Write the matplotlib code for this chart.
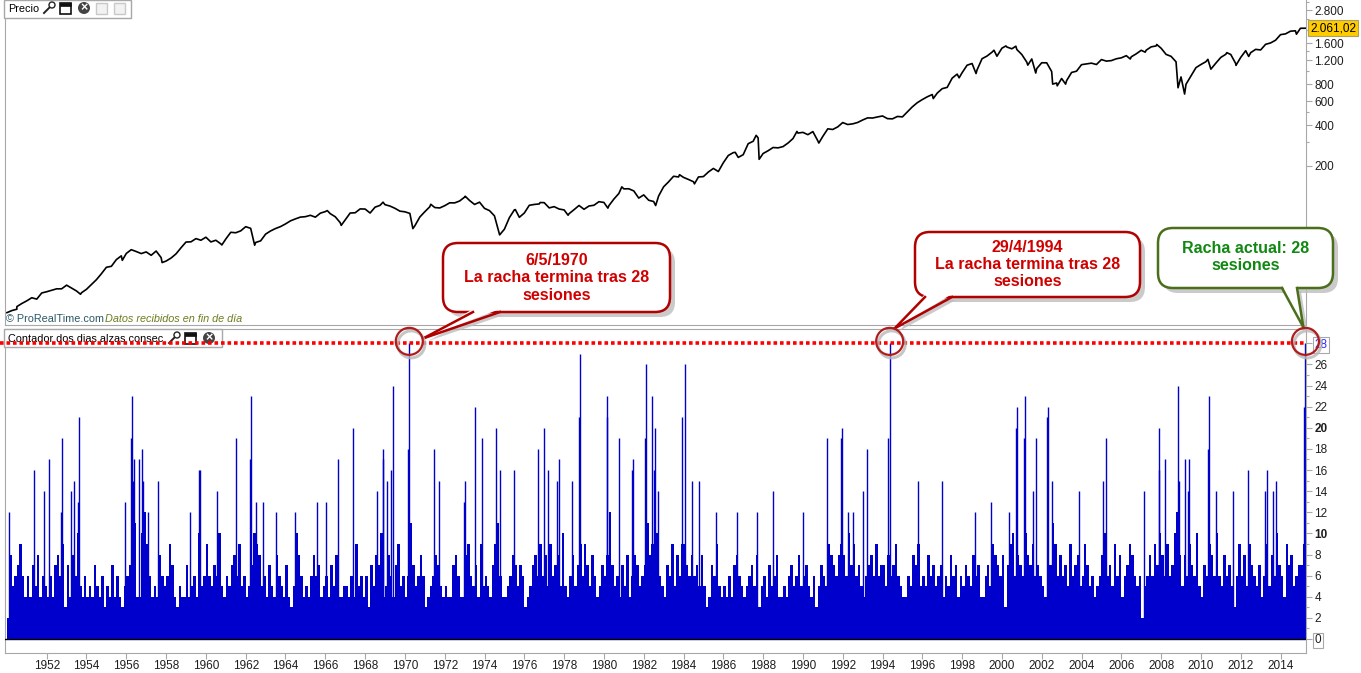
import numpy as np
import matplotlib
matplotlib.use("Agg")
import matplotlib.pyplot as plt
from matplotlib.patches import FancyBboxPatch, Polygon, Rectangle, Circle
from matplotlib.lines import Line2D
from matplotlib.transforms import Affine2D, blended_transform_factory

plt.rcParams['font.family'] = ['Liberation Sans', 'DejaVu Sans']

W, H = 1361, 673

# ---------------------------------------------------------------- data
# S&P 500, quarter-end closes (one row per year)
price_q_1950s = [17.3, 17.7, 19.5, 20.4,  21.5, 21.0, 23.3, 23.8,
                 24.4, 25.0, 25.0, 26.6,  25.3, 24.1, 23.4, 24.8,
                 26.9, 29.2, 32.3, 36.0,  36.6, 41.0, 43.7, 45.5,
                 48.5, 47.0, 45.4, 46.7,  44.1, 47.4, 42.4, 40.0,
                 42.1, 45.2, 50.1, 55.2,  55.4, 58.5, 56.9, 59.9]
price_q_1960s = [55.3, 56.9, 53.5, 58.1,  65.1, 64.6, 66.7, 71.6,
                 69.6, 54.8, 56.3, 63.1,  66.6, 69.4, 71.7, 75.0,
                 79.0, 81.7, 84.2, 84.8,  86.8, 84.1, 90.0, 92.4,
                 89.2, 84.7, 76.6, 80.3,  90.2, 90.6, 96.7, 96.5,
                 90.2, 99.6, 102.7, 103.9, 101.5, 97.7, 93.1, 92.1]
price_q_1970s = [89.6, 72.7, 84.3, 92.2,  100.3, 99.0, 98.3, 102.1,
                 107.2, 107.1, 110.6, 118.1, 111.5, 104.3, 108.4, 97.6,
                 94.0, 86.0, 63.5, 68.6,  83.4, 95.2, 83.9, 90.2,
                 102.8, 104.3, 105.2, 107.5, 98.4, 100.5, 96.5, 95.1,
                 89.2, 95.5, 102.5, 96.1,  101.6, 102.9, 109.3, 107.9]
price_q_1980s = [102.1, 114.2, 125.5, 135.8, 136.0, 131.2, 116.2, 122.6,
                 112.0, 109.6, 120.4, 140.6, 153.0, 168.1, 166.1, 164.9,
                 159.2, 153.2, 166.1, 167.2, 180.7, 191.9, 182.1, 211.3,
                 238.9, 250.8, 231.3, 242.2, 291.7, 304.0, 321.8, 247.1,
                 258.9, 273.5, 271.9, 277.7, 294.9, 318.0, 349.2, 353.4]
price_q_1990s = [339.9, 358.0, 306.1, 330.2, 375.2, 371.2, 387.9, 417.1,
                 403.7, 408.1, 417.8, 435.7, 451.7, 450.5, 458.9, 466.5,
                 445.8, 444.3, 462.7, 459.3, 500.7, 544.8, 584.4, 615.9,
                 645.5, 670.6, 687.3, 740.7, 757.1, 885.1, 947.3, 970.4,
                 1101.8, 1133.8, 1017.0, 1229.2, 1286.4, 1372.7, 1282.7, 1469.3]
price_q_2000s = [1498.6, 1454.6, 1436.5, 1320.3, 1160.3, 1224.4, 1040.9, 1148.1,
                 1147.4, 989.8, 815.3, 879.8,  848.2, 974.5, 996.0, 1111.9,
                 1126.2, 1140.8, 1114.6, 1211.9, 1180.6, 1191.3, 1228.8, 1248.3,
                 1294.8, 1270.2, 1335.9, 1418.3, 1420.9, 1503.4, 1526.8, 1468.4,
                 1322.7, 1280.0, 1166.4, 903.3, 797.9, 919.3, 1057.1, 1115.1]
price_q_2010s = [1169.4, 1030.7, 1141.2, 1257.6, 1325.8, 1320.6, 1131.4, 1257.6,
                 1408.5, 1362.2, 1440.7, 1426.2, 1569.2, 1606.3, 1681.6, 1848.4,
                 1872.3, 1960.2, 1972.3, 2058.9, 2061.0]
price_start = 16.7
# intra-quarter highs and lows visible on the chart
price_ext_dates = [1950.5, 1953.7, 1955.8, 1957.8, 1960.8, 1962.45, 1966.1,
                   1966.8, 1968.9, 1970.4, 1971.3, 1973.03, 1974.76, 1975.55,
                   1976.8, 1978.2, 1980.2, 1980.9, 1982.6, 1983.8, 1984.55,
                   1986.6, 1987.65, 1987.8, 1989.7, 1990.8, 1996.55, 1997.85,
                   1998.7, 1999.6, 2000.2, 2000.7, 2001.3, 2001.7, 2002.55,
                   2002.78, 2003.2, 2006.45, 2007.2, 2007.78, 2008.85, 2009.18,
                   2010.35, 2011.3, 2011.76, 2012.4, 2014.8]
price_ext_vals = [18.5, 22.8, 40.5, 39.0, 52.5, 52.3, 94.0,
                  73.2, 108.4, 69.3, 104.6, 119.9, 62.3, 95.6,
                  107.8, 86.9, 98.0, 140.5, 102.4, 172.6, 147.8,
                  252.0, 336.0, 224.0, 359.0, 295.0, 626.0, 890.0,
                  957.0, 1420.0, 1527.0, 1520.0, 1103.0, 965.0, 800.0,
                  776.8, 800.0, 1224.0, 1374.0, 1565.0, 752.0, 676.5,
                  1217.0, 1363.0, 1099.0, 1278.0, 1862.0]

# consecutive up-day counter, one reading per 1/8 year
streak_1950s = [2, 8, 5, 6, 7, 9, 6, 4,   6, 4, 7, 5, 8, 4, 6, 5,
                4, 6, 4, 7, 8, 6, 9, 3,   7, 4, 8, 6, 10, 5, 4, 6,
                4, 5, 4, 7, 5, 4, 6, 3,   5, 4, 7, 4, 6, 4, 3, 5,
                6, 7, 9, 11, 4, 4, 10, 12, 9, 6, 4, 5, 4, 8, 6, 5,
                6, 9, 7, 4, 3, 5, 4, 4,   7, 4, 5, 6, 4, 10, 5, 6]
streak_1960s = [9, 6, 5, 7, 6, 10, 5, 4,  6, 5, 7, 8, 6, 9, 5, 6,
                4, 5, 7, 10, 9, 8, 5, 6,  4, 7, 5, 4, 8, 6, 5, 4,
                7, 4, 3, 5, 10, 8, 6, 4,  5, 4, 6, 8, 6, 7, 4, 5,
                6, 4, 7, 5, 8, 4, 4, 5,   5, 4, 6, 4, 9, 5, 6, 4,
                6, 3, 7, 5, 8, 7, 10, 4,  5, 8, 6, 4, 7, 9, 5, 6]
streak_1970s = [4, 6, 11, 7, 5, 6, 8, 6,  3, 4, 5, 6, 8, 7, 5, 4,
                5, 4, 4, 7, 8, 6, 4, 4,   8, 9, 6, 5, 7, 4, 9, 5,
                6, 5, 4, 7, 9, 11, 6, 4,  4, 5, 6, 8, 7, 5, 7, 6,
                3, 4, 5, 7, 8, 6, 9, 6,   8, 5, 9, 6, 7, 8, 5, 10,
                5, 4, 6, 8, 5, 7, 9, 6,   9, 7, 5, 8, 6, 4, 5, 7]
streak_1980s = [6, 8, 12, 7, 5, 6, 4, 7,  5, 8, 4, 6, 8, 7, 5, 6,
                7, 11, 8, 9, 7, 10, 6, 5, 4, 7, 6, 9, 5, 8, 6, 9,
                9, 7, 6, 8, 6, 7, 5, 8,   5, 3, 4, 7, 6, 9, 5, 4,
                5, 4, 6, 4, 7, 8, 6, 5,   4, 5, 6, 7, 5, 8, 3, 5,
                6, 4, 7, 5, 6, 8, 4, 4,   5, 4, 6, 7, 5, 6, 8, 5]
streak_1990s = [6, 7, 5, 4, 6, 3, 5, 7,   6, 5, 9, 8, 7, 6, 8, 9,
                8, 6, 10, 7, 9, 6, 7, 5,  4, 6, 7, 8, 6, 9, 6, 7,
                7, 5, 8, 6, 7, 9, 6, 5,   4, 4, 6, 5, 8, 7, 9, 5,
                6, 5, 8, 6, 7, 5, 6, 7,   4, 6, 5, 8, 6, 7, 4, 6,
                5, 7, 6, 5, 8, 6, 7, 4,   4, 6, 7, 5, 9, 8, 7, 6]
streak_2000s = [8, 3, 7, 9, 10, 6, 8, 7,  6, 10, 8, 7, 9, 6, 7, 6,
                5, 4, 8, 7, 11, 9, 6, 8,  6, 7, 5, 9, 6, 7, 8, 5,
                6, 9, 7, 5, 6, 4, 5, 6,   8, 10, 6, 7, 5, 9, 6, 8,
                4, 6, 7, 9, 8, 6, 5, 6,   2, 5, 6, 8, 6, 9, 7, 10,
                8, 6, 9, 6, 7, 10, 12, 8, 5, 8, 6, 9, 7, 6, 10, 5]
streak_2010s = [4, 7, 6, 9, 8, 6, 10, 6,  5, 8, 6, 7, 5, 3, 6, 9,
                6, 8, 5, 9, 7, 6, 5, 7,   4, 6, 9, 5, 8, 6, 10, 7,
                6, 4, 9, 7, 8, 5, 6, 7,   7, 9]

# the tall streaks, read one by one (decimal year, sessions)
spike_dates = [1950.12, 1951.38, 1951.88, 1952.10, 1952.74, 1952.79, 1953.24,
               1953.39, 1953.59, 1953.64, 1955.93, 1956.25, 1956.30, 1956.35,
               1956.40, 1956.65, 1956.77, 1956.86, 1957.11, 1957.61, 1959.20,
               1959.64, 1959.70, 1960.57, 1961.50, 1962.22, 1962.27, 1962.50,
               1962.89, 1963.54, 1964.48, 1965.57, 1966.03,
               1966.65, 1967.41, 1968.58, 1968.88, 1968.91, 1969.09, 1969.32,
               1969.39, 1970.17, 1970.22, 1971.48, 1971.73, 1972.97, 1973.04,
               1973.54, 1973.86, 1974.59, 1974.79, 1975.50, 1976.70, 1977.01,
               1977.21, 1977.63, 1977.76, 1978.41, 1978.76, 1978.80, 1980.14,
               1980.17, 1980.77, 1981.43, 1981.48, 1982.07, 1982.12,
               1982.40, 1982.53, 1982.58, 1982.73, 1983.94, 1984.09, 1984.41,
               1984.79, 1985.63, 1986.70, 1987.68, 1988.51, 1990.02, 1991.23,
               1991.92, 1991.98, 1992.28, 1992.53, 1993.04, 1993.24, 1994.29,
               1994.36, 1995.80, 1996.97,
               1998.65, 1999.44, 2000.37, 2000.72, 2000.77, 2001.13, 2001.18,
               2001.55, 2001.70, 2002.28, 2002.33, 2002.53, 2003.89, 2005.07,
               2005.25, 2007.16, 2007.88, 2007.91, 2008.21, 2008.83, 2008.92,
               2009.20, 2009.37, 2009.42, 2010.37, 2010.42, 2010.76, 2011.63,
               2012.38, 2013.22, 2013.31, 2013.64, 2013.77, 2015.20, 2015.25]
spike_vals = [12, 16, 14, 17, 12, 19, 14,
              15, 13, 21, 13, 19, 23, 15,
              17, 17, 18, 15, 12, 15, 12,
              16, 16, 14, 19, 17, 23, 13,
              13, 12, 12, 13, 13,
              17, 20, 14, 17, 18, 15, 16,
              24, 18, 28, 18, 15, 13, 15,
              22, 19, 20, 16, 16, 18, 20,
              16, 15, 17, 15, 21, 27, 21,
              23, 19, 16, 17, 19, 26,
              23, 16, 20, 14, 21, 26, 15,
              15, 12, 12, 12, 14, 12, 19,
              19, 20, 12, 12, 14, 18, 19,
              28, 15, 15,
              12, 13, 12, 20, 22, 19, 23,
              14, 19, 21, 22, 15, 14, 15,
              19, 14, 16, 20, 17, 24, 15,
              17, 14, 17, 18, 23, 14, 14,
              16, 14, 16, 14, 15, 22, 28]

# annotated streaks
marks = [(1970.22, 28), (1994.36, 28), (2015.25, 28)]
notes = ["6/5/1970\nLa racha termina tras 28\nsesiones",
         "29/4/1994\nLa racha termina tras 28\nsesiones",
         "Racha actual: 28\nsesiones"]

year_ticks = list(range(1952, 2015, 2))
price_ticks = [200, 400, 600, 800, 1200, 1600, 2800]
price_minor = [300, 500, 1000, 1400, 2000, 2400, 3200]
streak_ticks = list(range(0, 29, 2))

# ---------------------------------------------------------------- figure
fig = plt.figure(figsize=(W / 100, H / 100), dpi=100)
fig.patch.set_facecolor('white')
px = Affine2D().scale(1, -1).translate(0, H)   # image pixels, top-left origin

XMIN, XMAX = 1949.905, 2015.28
GRAY = '#a8a8a8'
TXT = '#1e1e1e'

ax1 = fig.add_axes([5 / W, 1 - 325 / H, 1301 / W, 325 / H])
ax2 = fig.add_axes([5 / W, 1 - 653 / H, 1301 / W, 324 / H])

# price panel
q_dates = np.concatenate([y + np.arange(1, 5) / 4 for y in range(1950, 2015)] +
                         [[2015.25]])
q_vals = (price_q_1950s + price_q_1960s + price_q_1970s + price_q_1980s +
          price_q_1990s + price_q_2000s + price_q_2010s)
p_dates = np.concatenate([[1950.0], q_dates, price_ext_dates])
p_vals = np.concatenate([[price_start], q_vals, price_ext_vals])
order = np.argsort(p_dates)
ax1.plot(p_dates[order], p_vals[order], color='black', lw=1.2)
ax1.set_yscale('log')
ax1.set_xlim(XMIN, XMAX)
ax1.set_ylim(13.55, 3323)
ax1.set_xticks([])
ax1.yaxis.tick_right()
ax1.set_yticks(price_ticks,
               labels=['{:,}'.format(v).replace(',', '.') for v in price_ticks])
ax1.set_yticks(price_minor, minor=True)
ax1.yaxis.set_minor_formatter(plt.NullFormatter())
ax1.tick_params(axis='y', which='major', length=4, width=0.8, color=GRAY,
                labelsize=8.5, labelcolor=TXT, pad=2)
ax1.tick_params(axis='y', which='minor', length=2.5, width=0.8, color=GRAY)
for s in ['left', 'right', 'bottom']:
    ax1.spines[s].set_color(GRAY)
ax1.spines['top'].set_visible(False)
ax1.text(1 + 4 / 1301, 2061, '2.061,02', fontsize=8.5, color='black',
         ha='left', va='center',
         transform=blended_transform_factory(ax1.transAxes, ax1.transData),
         bbox=dict(boxstyle='square,pad=0.15', fc='#ffcc00', ec='#b0a060', lw=0.8))

# streak panel
base = streak_1950s + streak_1960s + streak_1970s + streak_1980s + \
       streak_1990s + streak_2000s + streak_2010s
bx = 1950 + np.arange(len(base)) / 8
ax2.bar(bx, base, width=1 / 8, align='edge', color='#0000cc', lw=0, zorder=2)
ax2.vlines(spike_dates, 0, spike_vals, color='#0000cc', lw=1.0, zorder=2)
ax2.axhline(0, color='black', lw=1.0, zorder=3)
ax2.axhline(28, xmin=-5 / 1301, xmax=1, color='#ff0000', lw=2.6,
            ls=(0, (1, 0.8)), zorder=4, clip_on=False)
ax2.set_xlim(XMIN, XMAX)
ax2.set_ylim(-1.33, 29.36)
ax2.yaxis.tick_right()
ax2.set_yticks(streak_ticks, labels=[str(v) for v in streak_ticks])
ax2.set_yticks(range(1, 29, 2), minor=True)
ax2.tick_params(axis='y', which='major', length=4, width=0.8, color=GRAY,
                labelsize=8.5, labelcolor=TXT, pad=2)
ax2.tick_params(axis='y', which='minor', length=2.5, width=0.8, color=GRAY)
for lab in ax2.get_yticklabels():
    if lab.get_text() in ('10', '20'):
        lab.set_fontweight('bold')
    if lab.get_text() == '28':
        lab.set_color('#2a2aff')
        lab.set_bbox(dict(boxstyle='square,pad=0.15', fc='white', ec=GRAY, lw=0.8))
    if lab.get_text() == '0':
        lab.set_bbox(dict(boxstyle='square,pad=0.15', fc='white', ec=GRAY, lw=0.8))
ax2.set_xticks(year_ticks, labels=[str(y) for y in year_ticks])
ax2.tick_params(axis='x', length=4, width=0.8, color=GRAY, labelsize=8.5,
                labelcolor=TXT, pad=1)
for s in ax2.spines.values():
    s.set_color(GRAY)


# ---------------------------------------------------------------- panel headers
def icons(ax, x, y0, items, z):
    tr = Affine2D().scale(1, -1).translate(0, H - y0)
    for kind in items:
        if kind == 'wrench':
            ax.add_line(Line2D([x + 1, x + 8], [14, 7], color='#222', lw=1.4,
                               transform=tr, clip_on=False, zorder=z))
            ax.add_patch(Circle((x + 9, 6), 3, transform=tr, fc='white', ec='#222',
                                lw=1.0, clip_on=False, zorder=z))
            x += 17
        elif kind == 'window':
            ax.add_patch(Rectangle((x, 3.5), 11, 11, transform=tr, fc='white',
                                   ec='#111', lw=1.2, clip_on=False, zorder=z))
            ax.add_patch(Rectangle((x, 3.5), 11, 3, transform=tr, fc='#111',
                                   ec='#111', lw=0.5, clip_on=False, zorder=z))
            x += 18
        elif kind == 'close':
            ax.add_patch(Circle((x + 6, 9), 6, transform=tr, fc='#444', ec='none',
                                clip_on=False, zorder=z))
            ax.text(x + 6, 9.5, '×', transform=tr, color='white', fontsize=9,
                    fontweight='bold', ha='center', va='center', zorder=z)
            x += 18
        else:
            ax.add_patch(Rectangle((x, 3.5), 11, 11, transform=tr, fc='#f2f2f2',
                                   ec='#c8c8c8', lw=1.0, clip_on=False, zorder=z))
            x += 18


def header(ax, y0, w, label, z):
    ax.add_patch(Rectangle((4, y0), w, 18, transform=px, fc='white', ec=GRAY,
                           lw=1.0, clip_on=False, zorder=z))
    ax.text(8, y0 + 9.5, label, transform=px, fontsize=7.8, color='black',
            ha='left', va='center', zorder=z)


header(ax1, 0, 127, 'Precio', 5)
icons(ax1, 43, -1, ['wrench', 'window', 'close', 'grey', 'grey'], 6)
header(ax2, 329, 218, 'Contador dos dias alzas consec', 3.5)
icons(ax2, 168, 329, ['wrench', 'window', 'close'], 3.6)

ax1.text(6, 319, '© ProRealTime.com', transform=px, fontsize=7.8,
         color='#2a5868', ha='left', va='center')
ax1.text(105, 319, 'Datos recibidos en fin de día', transform=px, fontsize=7.8,
         color='#6b7d1e', style='italic', ha='left', va='center')


# ---------------------------------------------------------------- callouts
def to_px(ax, x, y):
    dx, dy = ax.transData.transform((x, y))
    return dx, H - dy


def callout(box, base_x, tip, text, tcol, ecol, cy):
    x0, y0, x1, y1 = box
    for dx, fc, ec, z in [(5, '#bdbdbd', 'none', 20), (0, 'white', ecol, 21)]:
        fig.add_artist(FancyBboxPatch((x0 + dx, y0 + dx), x1 - x0, y1 - y0,
                                      boxstyle='round,pad=0,rounding_size=15',
                                      transform=px, fc=fc, ec=ec, lw=1.8,
                                      alpha=0.8 if dx else 1, zorder=z))
    tri = [(base_x[0], y1), (base_x[1], y1), tip]
    fig.add_artist(Polygon([(a + 4, b + 3) for a, b in tri], closed=True,
                           transform=px, fc='#bdbdbd', ec='none', alpha=0.8, zorder=20))
    fig.add_artist(Polygon([(base_x[0], y1 - 3), (base_x[1], y1 - 3), tip],
                           closed=True, transform=px, fc='white', ec='none', zorder=22))
    for bxp in base_x:
        fig.add_artist(Line2D([bxp, tip[0]], [y1, tip[1]], color=ecol, lw=1.8,
                              transform=px, zorder=23))
    fig.text((x0 + x1) / 2, cy, text, transform=px, color=tcol, fontsize=11.5,
             fontweight='bold', ha='center', va='center', multialignment='center',
             linespacing=1.2, zorder=24)


boxes = [(443, 243, 670, 312), (915, 232, 1140, 297), (1158, 228, 1333, 288)]
bases = [(473, 500), (925, 952), (1282, 1297)]
tip_off = [(14, -3), (5, -13), (-2, -14)]
centers = [278, 264.5, 257]
for (mx, my), note, box, bxs, off, cy in zip(marks, notes, boxes, bases, tip_off, centers):
    cx, cyy = to_px(ax2, mx, my)
    cyy -= 2
    green = note.startswith('Racha')
    tcol = '#118811' if green else '#d00000'
    ecol = '#4a6e1a' if green else '#b00000'
    callout(box, bxs, (cx + off[0], cyy + off[1]), note, tcol, ecol, cy)
    fig.add_artist(Circle((cx + 2, cyy + 3), 13.5, transform=px, fill=False,
                          ec='#b8b8b8', lw=2.2, alpha=0.8, zorder=25))
    fig.add_artist(Circle((cx, cyy), 13.5, transform=px, fill=False,
                          ec='#b01c1c', lw=1.6, zorder=26))

fig.savefig('out.png', dpi=100, facecolor='white')
